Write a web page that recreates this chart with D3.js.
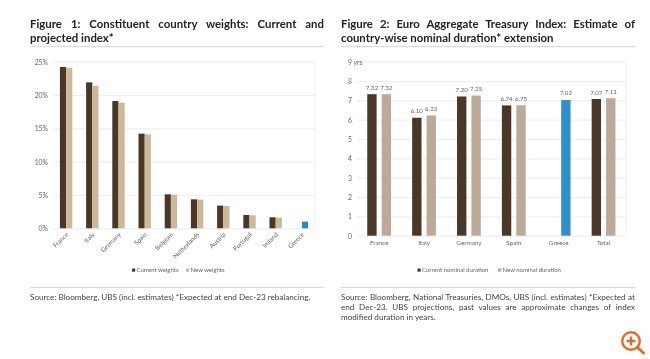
<!DOCTYPE html>
<html>
<head>
  <meta charset="utf-8">
  <title>Figures 1 and 2</title>
  <script src="https://d3js.org/d3.v7.min.js"></script>
  <style>
    body { margin: 0; background: #fff; width: 650px; height: 359px; overflow: hidden; position: relative; font-family: Lato, sans-serif; filter: blur(0.3px); }
    svg { position: absolute; left: 0; top: 0; }
    .title, .source { position: absolute; width: 294px; }
    .title span, .source span { display: block; }
    .just { text-align: justify; text-align-last: justify; }
    .title { font-weight: 700; font-size: 11.4px; line-height: 13.7px; color: #222; top: 17px; }
    .source { font-size: 8.15px; line-height: 10.2px; color: #444; top: 292px; white-space: nowrap; }
    .tick text, .lab, .leg { font-family: Lato, sans-serif; font-size: 6.8px; fill: #666; }
    .xlab .tick text { font-size: 6.3px; }
    .lab { font-size: 6.2px; }
    .leg { font-size: 6px; }
    .grid line { stroke: #efefef; stroke-width: 1.2; }
  </style>
</head>
<body>
  <div class="title" style="left:30px"><span class="just">Figure 1: Constituent country weights: Current and</span><span>projected index*</span></div>
  <div class="title" style="left:341px"><span class="just">Figure 2: Euro Aggregate Treasury Index: Estimate of</span><span>country-wise nominal duration* extension</span></div>
  <div class="source" style="left:30px"><span>Source: Bloomberg, UBS (incl. estimates) *Expected at end Dec-23 rebalancing.</span></div>
  <div class="source" style="left:341px"><span class="just">Source: Bloomberg, National Treasuries, DMOs, UBS (incl. estimates) *Expected at</span><span class="just">end Dec-23. UBS projections, past values are approximate changes of index</span><span>modified duration in years.</span></div>
  <svg id="page" width="650" height="359"></svg>
  <script>
    // Figure 1
    const weightCountries = ["France", "Italy", "Germany", "Spain", "Belgium", "Netherlands", "Austria", "Portugal", "Ireland", "Greece"];
    const currentWeights = [24.2, 21.9, 19.1, 14.2, 5.1, 4.35, 3.4, 2.0, 1.65, null];
    const newWeights = [24.1, 21.4, 18.85, 14.1, 5.05, 4.3, 3.35, 1.95, 1.6, 1.0];
    const weightTicks = [0, 5, 10, 15, 20, 25];
    const weightLegend = ["Current weights", "New weights"];

    // Figure 2
    const durationCountries = ["France", "Italy", "Germany", "Spain", "Greece", "Total"];
    const currentDuration = [7.32, 6.10, 7.20, 6.74, null, 7.07];
    const newDuration = [7.32, 6.22, 7.25, 6.75, 7.02, 7.11];
    const durationTicks = [0, 1, 2, 3, 4, 5, 6, 7, 8, 9];
    const durationLegend = ["Current nominal duration", "New nominal duration"];

    const DARK = "#4a3728", BLUE_L = "#2f86bd", BLUE_R = "#338fcb";
    const svg = d3.select("#page");

    // rules under the titles and above the sources
    [[30, 324], [341, 635]].forEach(([a, b]) => {
      [46.7, 287.3].forEach(y => {
        svg.append("line").attr("x1", a).attr("x2", b).attr("y1", y).attr("y2", y)
          .attr("stroke", "#d4d4d4").attr("stroke-width", 1);
      });
    });

    function drawChart(o) {
      const x = d3.scaleBand().domain(o.cats).range([o.left, o.right])
        .paddingInner(o.padding).paddingOuter(o.padding / 2);
      const slot = d3.scaleBand().domain([0, 1]).range([0, x.bandwidth()]).paddingInner(o.inner);
      const y = d3.scaleLinear().domain(o.domain).range([o.bottom, o.top]);

      // gridlines and y labels
      const yAxis = svg.append("g").attr("class", "grid")
        .attr("transform", `translate(${o.left},0)`)
        .call(d3.axisLeft(y).tickValues(o.ticks).tickSize(o.left - o.right).tickFormat(o.tickFormat));
      yAxis.select(".domain").remove();
      yAxis.selectAll("text").attr("x", o.labelX - o.left).attr("text-anchor", o.labelAnchor).attr("dy", "0.35em");

      svg.append("line").attr("x1", o.right).attr("x2", o.right).attr("y1", o.top).attr("y2", o.bottom)
        .attr("stroke", "#f2f2f2").attr("stroke-width", 1.2);

      // bars
      [o.current, o.next].forEach((values, s) => {
        svg.append("g").selectAll("rect")
          .data(values.map((v, i) => ({ v, cat: o.cats[i] })).filter(d => d.v !== null))
          .enter().append("rect")
          .attr("x", d => x(d.cat) + slot(s))
          .attr("width", slot.bandwidth())
          .attr("y", d => y(d.v))
          .attr("height", d => y(0) - y(d.v))
          .attr("fill", d => d.cat === "Greece" ? o.blue : (s === 0 ? DARK : o.light));

        if (o.showValues) {
          svg.append("g").selectAll("text")
            .data(values.map((v, i) => ({ v, cat: o.cats[i] })).filter(d => d.v !== null))
            .enter().append("text")
            .attr("class", "lab")
            .attr("text-anchor", "middle")
            .attr("x", d => x(d.cat) + slot(s) + slot.bandwidth() / 2)
            .attr("y", d => y(d.v) - 4.5)
            .text(d => d.v.toFixed(2));
        }
      });

      // x labels
      const xAxis = svg.append("g").attr("class", "xlab")
        .attr("transform", `translate(0,${o.bottom})`)
        .call(d3.axisBottom(x).tickSize(0));
      xAxis.select(".domain").remove();
      if (o.rotate) {
        xAxis.selectAll("text")
          .attr("text-anchor", "end")
          .attr("transform", "translate(-1,3) rotate(-45)")
          .attr("dy", "0.35em").attr("y", 3);
      } else {
        xAxis.selectAll("text").attr("y", 4.5);
      }

      // legend
      o.legendX.forEach((lx, i) => {
        svg.append("rect").attr("x", lx).attr("y", 268.5).attr("width", 3.2).attr("height", 3.2)
          .attr("fill", i === 0 ? DARK : o.light);
        svg.append("text").attr("class", "leg").attr("x", lx + 4.5).attr("y", 272.4).text(o.legend[i]);
      });
    }

    drawChart({
      cats: weightCountries, current: currentWeights, next: newWeights,
      ticks: weightTicks, domain: [0, 25], tickFormat: d => d + "%",
      left: 53, right: 315, top: 61.7, bottom: 228.3, labelX: 48, labelAnchor: "end",
      padding: 0.527, inner: 0, light: "#cdb99a", blue: BLUE_L,
      rotate: true, showValues: false, legend: weightLegend, legendX: [132, 186]
    });

    drawChart({
      cats: durationCountries, current: currentDuration, next: newDuration,
      ticks: durationTicks, domain: [0, 9], tickFormat: d => d === 9 ? "9 yrs" : d,
      left: 356.7, right: 626, top: 61.7, bottom: 235.7, labelX: 348, labelAnchor: "start",
      padding: 0.47, inner: 0.35, light: "#bda997", blue: BLUE_R,
      rotate: false, showValues: true, legend: durationLegend, legendX: [417.5, 498]
    });

    // zoom badge in the corner
    const badge = svg.append("g").attr("fill", "none").attr("stroke", "#e8682c");
    badge.append("circle").attr("cx", 631).attr("cy", 341).attr("r", 8.8).attr("stroke-width", 2.4).attr("fill", "#fff");
    badge.append("path").attr("d", "M637.5 347.5L643.5 353").attr("stroke-width", 3).attr("stroke-linecap", "round");
    badge.append("path").attr("d", "M626.5 341H635.5M631 336.5V345.5").attr("stroke-width", 2.4);
  </script>
</body>
</html>
